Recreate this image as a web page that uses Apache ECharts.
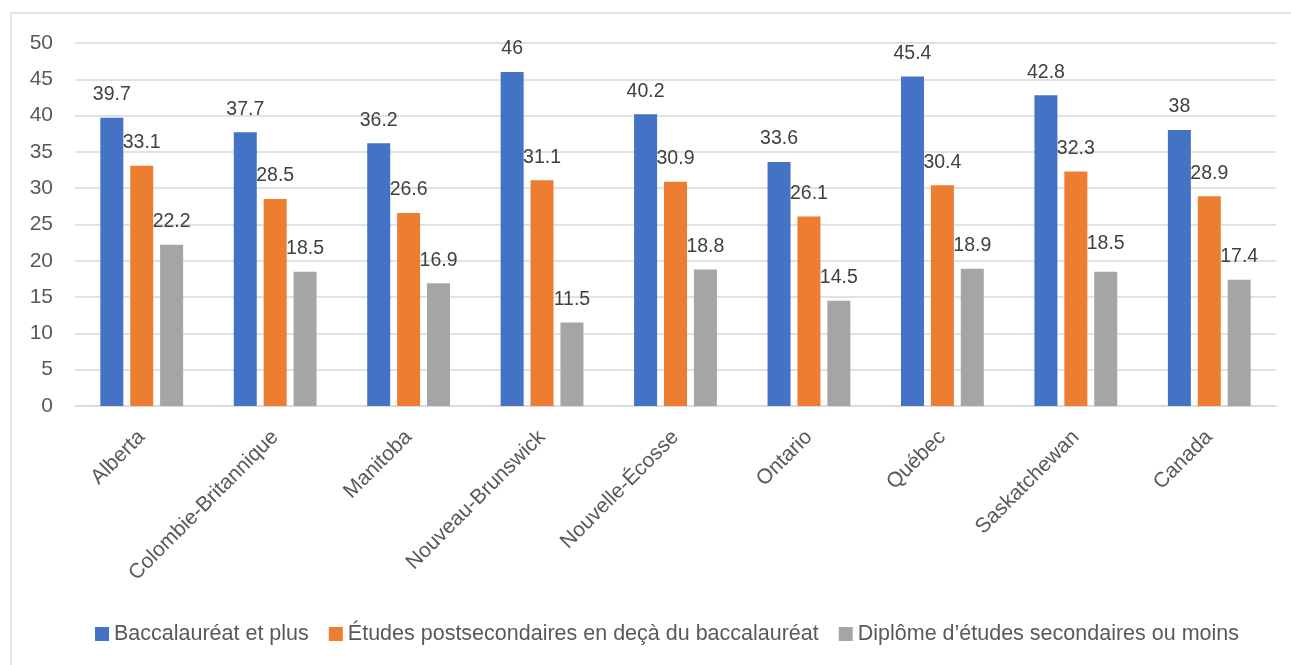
<!DOCTYPE html>
<html>
<head>
<meta charset="utf-8">
<script src="https://cdn.jsdelivr.net/npm/echarts@6/dist/echarts.min.js"></script>
<style>
html,body{margin:0;padding:0;background:#fff;}
#chart{width:1291px;height:665px;}
</style>
</head>
<body>
<div id="chart"></div>
<script>
const categories = ['Alberta','Colombie-Britannique','Manitoba','Nouveau-Brunswick','Nouvelle-Écosse','Ontario','Québec','Saskatchewan','Canada'];
const seriesNames = ['Baccalauréat et plus','Études postsecondaires en deçà du baccalauréat','Diplôme d’études secondaires ou moins'];
const bacc = [39.7, 37.7, 36.2, 46, 40.2, 33.6, 45.4, 42.8, 38];
const postsec = [33.1, 28.5, 26.6, 31.1, 30.9, 26.1, 30.4, 32.3, 28.9];
const secondaire = [22.2, 18.5, 16.9, 11.5, 18.8, 14.5, 18.9, 18.5, 17.4];
const yTicks = [0, 50, 5];

const FONT = '"Liberation Sans", Arial, sans-serif';
const colors = ['#4472C4','#ED7D31','#A5A5A5'];

function mkSeries(name, data, color){
  return {
    name: name,
    type: 'bar',
    data: data.map(v => ({value: v})),
    barWidth: 23,
    barGap: '30%',
    itemStyle: {color: color},
    label: {
      show: true,
      position: 'top',
      distance: 13,
      fontFamily: FONT,
      fontSize: 19.5,
      color: '#404040'
    }
  };
}
const s3 = mkSeries(seriesNames[2], secondaire, colors[2]);
s3.data[7] = {value: secondaire[7], label: {distance: 18}};

const chart = echarts.init(document.getElementById('chart'), null, {renderer: 'canvas'});
chart.setOption({
  backgroundColor: '#fff',
  animation: false,
  graphic: [{
    type: 'rect',
    shape: {x: 11, y: 13, width: 1300, height: 700},
    style: {fill: 'none', stroke: '#d9d9d9', lineWidth: 1.5},
    silent: true,
    z: -10
  }],
  grid: {left: 75, right: 15, top: 43, bottom: 259},
  legend: {
    data: seriesNames,
    bottom: 15,
    left: 90,
    itemWidth: 14,
    itemHeight: 14,
    itemGap: 20,
    icon: 'rect',
    textStyle: {fontFamily: FONT, fontSize: 21.5, color: '#595959'}
  },
  xAxis: {
    type: 'category',
    data: categories,
    axisLine: {show: true, lineStyle: {color: '#d9d9d9', width: 1.5}},
    axisTick: {show: false},
    axisLabel: {rotate: 45, margin: 28, fontFamily: FONT, fontSize: 21, color: '#595959', interval: 0}
  },
  yAxis: {
    type: 'value',
    min: yTicks[0],
    max: yTicks[1],
    interval: yTicks[2],
    axisLine: {show: false},
    axisTick: {show: false},
    splitLine: {lineStyle: {color: '#d9d9d9', width: 1.5}},
    axisLabel: {margin: 22, fontFamily: FONT, fontSize: 21, color: '#595959'}
  },
  series: [
    mkSeries(seriesNames[0], bacc, colors[0]),
    mkSeries(seriesNames[1], postsec, colors[1]),
    s3
  ]
});
</script>
</body>
</html>
